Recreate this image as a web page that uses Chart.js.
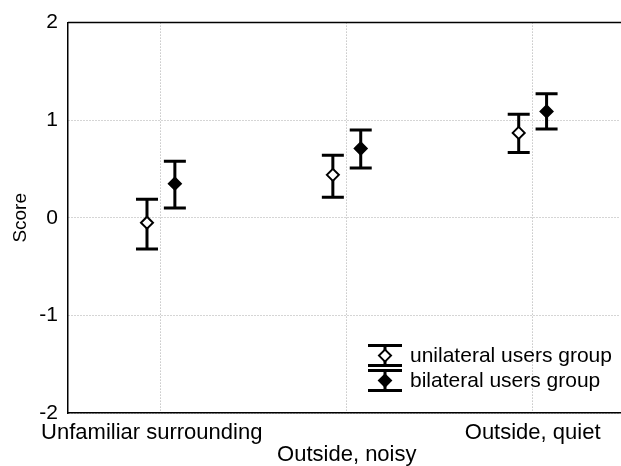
<!DOCTYPE html>
<html>
<head>
<meta charset="utf-8">
<script src="https://cdn.jsdelivr.net/npm/chart.js@4"></script>
<style>
  body { margin: 0; background: #fff; }
  #wrap { width: 621px; height: 466px; }
</style>
</head>
<body>
<div id="wrap"><canvas id="chart" width="621" height="466"></canvas></div>
<script>
const categories = ["Unfamiliar surrounding", "Outside, noisy", "Outside, quiet"];
const seriesNames = ["unilateral users group", "bilateral users group"];

// means and error bar ends
const uniMean = [-0.05, 0.44, 0.87];
const uniLow  = [-0.32, 0.21, 0.67];
const uniHigh = [0.19, 0.64, 1.06];
const biMean  = [0.35, 0.71, 1.09];
const biLow   = [0.10, 0.51, 0.91];
const biHigh  = [0.58, 0.90, 1.27];

const yTicks = [-2, -1, 0, 1, 2];

const SHIFT = 0.075;
const FONT = "'Liberation Sans', Arial, sans-serif";

function makePoints(means, lows, highs, dx)
{
    let pts = [];
    for(let i=0; i<means.length; i++)
    {
        pts.push({x: i + dx, y: means[i], lo: lows[i], hi: highs[i]});
    }
    return pts;
}

const errorBars = {
    id: 'errorBars',
    beforeDatasetsDraw(chart) {
        const ctx = chart.ctx;
        const ys = chart.scales.y;
        ctx.save();
        ctx.strokeStyle = '#000';
        ctx.lineWidth = 3;
        chart.data.datasets.forEach((ds, di) => {
            const meta = chart.getDatasetMeta(di);
            meta.data.forEach((pt, i) => {
                const d = ds.data[i];
                const px = pt.x;
                const top = ys.getPixelForValue(d.hi);
                const bot = ys.getPixelForValue(d.lo);
                ctx.beginPath();
                ctx.moveTo(px, top); ctx.lineTo(px, bot);
                ctx.moveTo(px - 11, top); ctx.lineTo(px + 11, top);
                ctx.moveTo(px - 11, bot); ctx.lineTo(px + 11, bot);
                ctx.stroke();
            });
        });
        ctx.restore();
    },
    afterDraw(chart) {
        const ctx = chart.ctx;
        const a = chart.chartArea;
        ctx.save();
        // frame: top line across
        ctx.strokeStyle = '#000';
        ctx.lineWidth = 1.5;
        ctx.beginPath();
        ctx.moveTo(a.left, a.top); ctx.lineTo(chart.width, a.top);
        ctx.stroke();

        // legend, bottom right inside the plot
        const fills = ['#fff', '#000'];
        const cx = a.left + 317;
        let rowY = a.top + 333;
        ctx.font = "21px " + FONT;
        ctx.textBaseline = 'middle';
        ctx.textAlign = 'left';
        for(let i=0; i<seriesNames.length; i++)
        {
            ctx.strokeStyle = '#000';
            ctx.lineWidth = 3;
            ctx.beginPath();
            ctx.moveTo(cx - 17, rowY - 10); ctx.lineTo(cx + 17, rowY - 10);
            ctx.moveTo(cx - 17, rowY + 10); ctx.lineTo(cx + 17, rowY + 10);
            ctx.moveTo(cx, rowY - 10); ctx.lineTo(cx, rowY + 10);
            ctx.stroke();
            ctx.lineWidth = 2;
            ctx.fillStyle = fills[i];
            ctx.beginPath();
            ctx.moveTo(cx, rowY - 6); ctx.lineTo(cx + 6, rowY);
            ctx.lineTo(cx, rowY + 6); ctx.lineTo(cx - 6, rowY);
            ctx.closePath();
            ctx.fill(); ctx.stroke();
            ctx.fillStyle = '#000';
            ctx.fillText(seriesNames[i], cx + 25, rowY + 1);
            rowY += 25;
        }
        ctx.restore();
    }
};

const config = {
    type: 'scatter',
    data: {
        datasets: [
            {
                label: seriesNames[0],
                data: makePoints(uniMean, uniLow, uniHigh, -SHIFT),
                pointStyle: 'rectRot',
                pointRadius: 6,
                pointBorderWidth: 2,
                pointBackgroundColor: '#fff',
                pointBorderColor: '#000'
            },
            {
                label: seriesNames[1],
                data: makePoints(biMean, biLow, biHigh, SHIFT),
                pointStyle: 'rectRot',
                pointRadius: 6,
                pointBorderWidth: 2,
                pointBackgroundColor: '#000',
                pointBorderColor: '#000'
            }
        ]
    },
    options: {
        responsive: false,
        animation: false,
        layout: { autoPadding: false, padding: { top: 20, right: 1, left: 0, bottom: 0 } },
        plugins: {
            legend: { display: false },
            tooltip: { enabled: false }
        },
        scales: {
            x: {
                type: 'linear',
                min: -0.5,
                max: 2.47,
                afterBuildTicks: s => { s.ticks = categories.map((c, i) => ({value: i})); },
                afterFit: s => { s.height = 53; s.paddingLeft = 0; s.paddingRight = 0; },
                grid: {
                    color: '#aaa',
                    lineWidth: 1,
                    drawTicks: false
                },
                border: { color: '#000', width: 1.5, dash: [1, 2] },
                ticks: {
                    color: '#000',
                    font: { family: FONT, size: 22, lineHeight: 1.0 },
                    padding: 9,
                    maxRotation: 0,
                    autoSkip: false,
                    callback: (v) => {
                        if(v === 0) return categories[0] + '   ';
                        if(v === 1) return ['', categories[1]];
                        return categories[v];
                    }
                }
            },
            y: {
                min: -2,
                max: 2,
                afterBuildTicks: s => { s.ticks = yTicks.map(v => ({value: v})); },
                afterFit: s => { s.width = 68; },
                grid: {
                    color: '#aaa',
                    lineWidth: 1,
                    drawTicks: false
                },
                border: { color: '#000', width: 1.5, dash: [1, 2] },
                title: {
                    display: true,
                    text: 'Score',
                    color: '#000',
                    font: { family: FONT, size: 19 },
                    padding: { top: 9, bottom: 0 }
                },
                ticks: {
                    color: '#000',
                    font: { family: FONT, size: 21 },
                    padding: 10
                }
            }
        }
    },
    plugins: [errorBars]
};

const chart = new Chart(document.getElementById('chart').getContext('2d'), config);
</script>
</body>
</html>
